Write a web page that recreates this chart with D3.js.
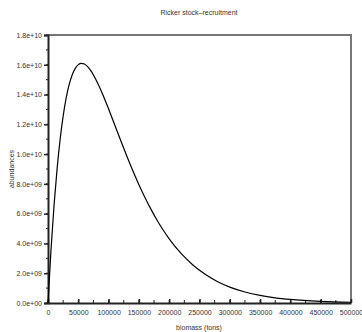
<!DOCTYPE html>
<html>
<head>
<meta charset="utf-8">
<script src="https://cdn.jsdelivr.net/npm/d3@7"></script>
<style>
  body { margin: 0; background: #fff; }
  svg text { font-family: "Liberation Sans", Arial, sans-serif; fill: #333; }
</style>
</head>
<body>
<svg id="chart" width="362" height="332"></svg>
<script>
// biomass (tons) vs abundances
const biomass = [0, 5000, 10000, 15000, 20000, 25000, 30000, 35000, 40000, 45000, 50000, 55000, 60000,
  70000, 80000, 90000, 100000, 110000, 120000, 130000, 140000, 150000, 160000, 170000, 180000, 190000,
  200000, 220000, 240000, 260000, 280000, 300000, 325000, 350000, 375000, 400000, 450000, 500000];
const abundances = [0, 3.6e9, 6.58e9, 9.01e9, 1.099e10, 1.255e10, 1.377e10, 1.468e10, 1.533e10, 1.576e10, 1.601e10, 1.61e10, 1.605e10,
  1.564e10, 1.493e10, 1.404e10, 1.303e10, 1.197e10, 1.091e10, 9.87e9, 8.88e9, 7.95e9, 7.09e9, 6.29e9, 5.56e9, 4.9e9,
  4.31e9, 3.31e9, 2.52e9, 1.91e9, 1.43e9, 1.07e9, 7.4e8, 5.1e8, 3.5e8, 2.4e8, 1.1e8, 5e7];
const xTicks = [0, 50000, 100000, 150000, 200000, 250000, 300000, 350000, 400000, 450000, 500000];
const yTicks = [0, 2e9, 4e9, 6e9, 8e9, 1e10, 1.2e10, 1.4e10, 1.6e10, 1.8e10];
const title = 'Ricker stock\u2013recruitment';
const xLabel = 'biomass (tons)';
const yLabel = 'abundances';

const svg = d3.select('#chart');
const margin = { top: 35, right: 11, bottom: 29, left: 48 };
const width = 362, height = 332;

const x = d3.scaleLinear().domain([0, 500000]).range([margin.left, width - margin.right]);
const y = d3.scaleLinear().domain([0, 1.8e10]).range([height - margin.bottom, margin.top]);

// frame (top, right)
svg.append('path')
  .attr('d', `M${x(0)},${y(1.8e10)}H${x(500000)}V${y(0)}`)
  .attr('fill', 'none').attr('stroke', '#777').attr('stroke-width', 2);

const fmtY = d => d3.format('.1e')(d).replace(/e([+-])(\d)$/, 'e$10$2');

// y minor ticks
svg.append('g').selectAll('line')
  .data(d3.range(0, 1.8e10 + 1, 1e9))
  .enter().append('line')
  .attr('x1', x(0) - 2).attr('x2', x(0))
  .attr('y1', d => y(d)).attr('y2', d => y(d))
  .attr('stroke', '#222').attr('stroke-width', 1);

const yAxis = d3.axisLeft(y).tickValues(yTicks).tickFormat(fmtY).tickSize(4).tickPadding(2);
const gy = svg.append('g').attr('transform', `translate(${margin.left},0)`).call(yAxis);
gy.select('.domain').attr('stroke', '#222').attr('stroke-width', 2);
gy.selectAll('.tick line').attr('stroke', '#222').attr('stroke-width', 1.5);
gy.selectAll('.tick text').style('font-size', '7px').attr('fill', '#333');

// x minor ticks
svg.append('g').selectAll('line')
  .data(d3.range(0, 500001, 25000))
  .enter().append('line')
  .attr('x1', d => x(d)).attr('x2', d => x(d))
  .attr('y1', y(0)).attr('y2', y(0) - 3)
  .attr('stroke', '#222').attr('stroke-width', 1);

const xAxis = d3.axisBottom(x).tickValues(xTicks).tickFormat(d3.format('d')).tickSizeInner(-4).tickSizeOuter(0).tickPadding(7);
const gx = svg.append('g').attr('transform', `translate(0,${y(0)})`).call(xAxis);
gx.select('.domain').attr('stroke', '#222').attr('stroke-width', 2);
gx.selectAll('.tick line').attr('stroke', '#222').attr('stroke-width', 1.5);
gx.selectAll('.tick text').style('font-size', '7px').attr('fill', '#333');

const line = d3.line()
  .x((d, i) => x(biomass[i]))
  .y(d => y(d))
  .curve(d3.curveMonotoneX);

svg.append('path')
  .datum(abundances)
  .attr('d', line)
  .attr('fill', 'none')
  .attr('stroke', '#000')
  .attr('stroke-width', 1.2);

svg.append('text')
  .attr('x', 199).attr('y', 15)
  .attr('text-anchor', 'middle')
  .style('font-size', '7px')
  .text(title);

svg.append('text')
  .attr('x', 199).attr('y', 330)
  .attr('text-anchor', 'middle')
  .style('font-size', '7px')
  .text(xLabel);

svg.append('text')
  .attr('transform', `translate(14,${(y(0) + y(1.8e10)) / 2}) rotate(-90)`)
  .attr('text-anchor', 'middle')
  .style('font-size', '7px')
  .text(yLabel);
</script>
</body>
</html>
